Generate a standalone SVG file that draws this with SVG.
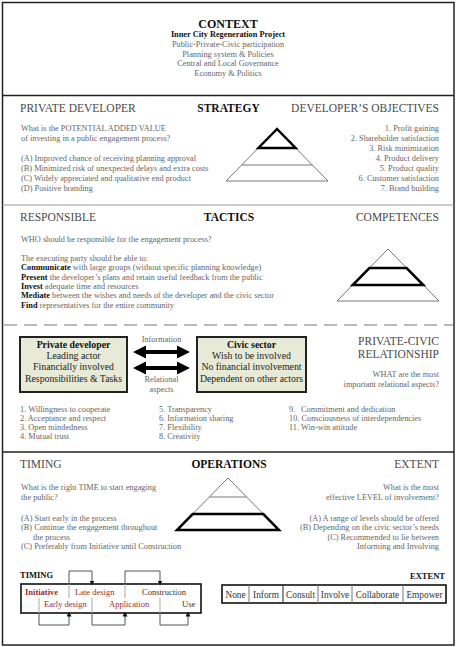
<svg xmlns="http://www.w3.org/2000/svg" width="456" height="647" viewBox="0 0 456 647" font-family="'Liberation Serif', 'DejaVu Serif', serif">
<style>
text{font-family:'Liberation Serif','DejaVu Serif',serif;font-size:8.3px;fill:#666}
.h{font-size:11.5px;fill:#4a4a4a}
.b{font-weight:bold;fill:#111}
.s12{font-size:12px}
.s115{font-size:11.5px}
.s85{font-size:8.5px}
.bk{font-weight:bold;fill:#111}
.m{text-anchor:middle}
.r{text-anchor:end}
.bx{font-size:9.8px;fill:#222}
.bxb{font-weight:bold;fill:#111}
.thin{fill:none;stroke:#777;stroke-width:1}
.bold{fill:none;stroke:#000;stroke-width:2.5;stroke-linejoin:miter}
.node{fill:#e6ead6;stroke:#222;stroke-width:2}
.tm{font-size:8.5px;fill:#333}
.red{fill:#9b2c2c}
.ex{font-size:9.3px;fill:#333}
.lo{fill:none;stroke:#555;stroke-width:1}
.li{fill:none;stroke:#aaa;stroke-width:1}
</style>
<defs>
<marker id="ah" viewBox="0 0 10 10" refX="9" refY="5" markerWidth="5" markerHeight="5" orient="auto"><path d="M0,0 L10,5 L0,10 z" fill="#111"/></marker>
</defs>
<rect x="0" y="0" width="456" height="647" fill="#fff"/>
<g id="frame">
<rect x="2.5" y="2.5" width="451.5" height="642.5" fill="none" stroke="#222" stroke-width="1.5"/>
<line x1="2.5" y1="95.5" x2="454" y2="95.5" stroke="#222" stroke-width="1.5"/>
<line x1="2.5" y1="205" x2="454" y2="205" stroke="#999" stroke-width="1"/>
<line x1="4" y1="325" x2="454" y2="325" stroke="#777" stroke-width="1" stroke-dasharray="13 7"/>
<line x1="2.5" y1="452" x2="454" y2="452" stroke="#222" stroke-width="1.5"/>
</g>
<g id="context">
<text x="228" y="28" class="b m s12">CONTEXT</text>
<text x="228" y="37" class="b m">Inner City Regeneration Project</text>
<text x="228" y="47" class="m">Public-Private-Civic participation</text>
<text x="228" y="56.5" class="m">Planning system &amp; Policies</text>
<text x="228" y="66" class="m">Central and Local Governance</text>
<text x="228" y="75.5" class="m">Economy &amp; Politics</text>
</g>
<g id="strategy">
<text x="20" y="112" class="h">PRIVATE DEVELOPER</text>
<text x="228.5" y="112" class="b m s115">STRATEGY</text>
<text x="439" y="112" class="h r">DEVELOPER’S OBJECTIVES</text>
<text x="21" y="131">What is the POTENTIAL ADDED VALUE</text>
<text x="21" y="141">of investing in a public engagement process?</text>
<text x="21" y="161">(A) Improved chance of receiving planning approval</text>
<text x="21" y="171">(B) Minimized risk of unexpected delays and extra costs</text>
<text x="21" y="181">(C) Widely appreciated and qualitative end product</text>
<text x="21" y="191">(D) Positive branding</text>
<text x="439" y="131" class="r">1. Profit gaining</text>
<text x="439" y="141" class="r">2. Shareholder satisfaction</text>
<text x="439" y="151" class="r">3. Risk minimization</text>
<text x="439" y="161" class="r">4. Product delivery</text>
<text x="439" y="171" class="r">5. Product quality</text>
<text x="439" y="181" class="r">6. Customer satisfaction</text>
<text x="439" y="191" class="r">7. Brand building</text>
<g id="pyramid-strategy">
<polygon class="thin" points="277,129 226,181 328,181"/>
<line class="thin" x1="241.7" y1="165" x2="312.3" y2="165"/>
<polygon class="bold" points="277,129 258.4,148 295.6,148"/>
</g>
</g>
<g id="tactics">
<text x="20" y="221" class="h">RESPONSIBLE</text>
<text x="229" y="221" class="b m s115">TACTICS</text>
<text x="439" y="221" class="h r">COMPETENCES</text>
<text x="21" y="242">WHO should be responsible for the engagement process?</text>
<text x="21" y="261">The executing party should be able to:</text>
<text x="21" y="270.3"><tspan class="bk">Communicate</tspan> with large groups (without specific planning knowledge)</text>
<text x="21" y="279.6"><tspan class="bk">Present</tspan> the developer’s plans and retain useful feedback from the public</text>
<text x="21" y="288.9"><tspan class="bk">Invest</tspan> adequate time and resources</text>
<text x="21" y="298.2"><tspan class="bk">Mediate</tspan> between the wishes and needs of the developer and the civic sector</text>
<text x="21" y="307.5"><tspan class="bk">Find</tspan> representatives for the entire community</text>
<g id="pyramid-tactics">
<polygon class="thin" points="388,249 337,301 439,301"/>
<line class="thin" x1="369.4" y1="268" x2="406.6" y2="268"/>
<polygon class="bold" points="369.4,268 406.6,268 423.3,285 352.7,285"/>
</g>
</g>
<g id="relationship">
<text x="439" y="345" class="h r">PRIVATE-CIVIC</text>
<text x="439" y="358" class="h r">RELATIONSHIP</text>
<text x="439" y="376.5" class="r">WHAT are the most</text>
<text x="439" y="387" class="r">important relational aspects?</text>
<text x="20" y="412">1. Willingness to cooperate</text>
<text x="20" y="421">2. Acceptance and respect</text>
<text x="20" y="430">3. Open mindedness</text>
<text x="20" y="439">4. Mutual trust</text>
<text x="159" y="412">5. Transparency</text>
<text x="159" y="421">6. Information sharing</text>
<text x="159" y="430">7. Flexibility</text>
<text x="159" y="439">8. Creativity</text>
<text x="289" y="412">9.<tspan x="301">Commitment and dedication</tspan></text>
<text x="289" y="421">10. Consciousness of interdependencies</text>
<text x="289" y="430">11. Win-win attitude</text>
</g>
<g id="node-private">
<rect class="node" x="20" y="337" width="107" height="55"/>
<text x="73.5" y="347.5" class="bx bxb m">Private developer</text>
<text x="73.5" y="359" class="bx m">Leading actor</text>
<text x="73.5" y="370.3" class="bx m">Financially involved</text>
<text x="73.5" y="381.6" class="bx m">Responsibilities &amp; Tasks</text>
</g>
<g id="node-civic">
<rect class="node" x="197" y="337" width="109" height="55"/>
<text x="251.5" y="347.5" class="bx bxb m">Civic sector</text>
<text x="251.5" y="359" class="bx m">Wish to be involved</text>
<text x="251.5" y="370.3" class="bx m">No financial involvement</text>
<text x="251.5" y="381.6" class="bx m">Dependent on other actors</text>
</g>
<g id="connectors">
<polygon fill="#000" points="133,352 146,345.5 146,350 177,350 177,345.5 190,352 177,358.5 177,354 146,354 146,358.5"/>
<polygon fill="#000" points="133,368 146,361.5 146,366 177,366 177,361.5 190,368 177,374.5 177,370 146,370 146,374.5"/>
<text x="161.5" y="342" class="m">Information</text>
<text x="161.5" y="382" class="m">Relational</text>
<text x="161.5" y="392" class="m">aspects</text>
</g>
<g id="operations">
<text x="20" y="468" class="h">TIMING</text>
<text x="229" y="468" class="b m s115">OPERATIONS</text>
<text x="439" y="468" class="h r">EXTENT</text>
<text x="21" y="490">What is the right TIME to start engaging</text>
<text x="21" y="500">the public?</text>
<text x="21" y="520.5">(A) Start early in the process</text>
<text x="21" y="530">(B) Continue the engagement throughout</text>
<text x="33" y="539.5">the process</text>
<text x="21" y="549">(C) Preferably from Initiative until Construction</text>
<text x="439" y="490" class="r">What is the most</text>
<text x="439" y="500" class="r">effective LEVEL of involvement?</text>
<text x="439" y="520.5" class="r">(A) A range of levels should be offered</text>
<text x="439" y="530" class="r">(B) Depending on the civic sector’s needs</text>
<text x="439" y="539.5" class="r">(C) Recommended to lie between</text>
<text x="439" y="549" class="r">Informing and Involving</text>
<g id="pyramid-operations">
<polygon class="thin" points="228,478 177,530 279,530"/>
<line class="thin" x1="209.4" y1="497" x2="246.6" y2="497"/>
<polygon class="bold" points="192.7,514 263.3,514 279,530 177,530"/>
</g>
</g>
<g id="timing-diagram">
<text x="20" y="577.5" class="b s85">TIMING</text>
<rect x="21" y="584" width="180" height="29" fill="none" stroke="#111" stroke-width="1.6"/>
<text x="25" y="595" class="tm red bxb">Initiative</text>
<text x="75" y="595" class="tm red">Late design</text>
<text x="142" y="595" class="tm">Construction</text>
<text x="44" y="607" class="tm red">Early design</text>
<text x="109" y="607" class="tm red">Application</text>
<text x="182" y="607" class="tm">Use</text>
<g id="timing-connectors">
<path class="li" d="M69,598 V584"/>
<path class="lo" d="M69,584 V571 H92 V585" marker-end="url(#ah)"/>
<path class="li" d="M125,598 V584"/>
<path class="lo" d="M125,584 V571 H160 V585" marker-end="url(#ah)"/>
<path class="li" d="M39,598 V613"/>
<path class="lo" d="M39,613 V625 H69 V612" marker-end="url(#ah)"/>
<path class="li" d="M92,598 V613"/>
<path class="lo" d="M92,613 V625 H125 V612" marker-end="url(#ah)"/>
<path class="li" d="M160,598 V613"/>
<path class="lo" d="M160,613 V625 H188 V612" marker-end="url(#ah)"/>
</g>
</g>
<g id="extent-diagram">
<text x="445" y="578.5" class="b r s85">EXTENT</text>
<rect x="222" y="585" width="224" height="18" fill="none" stroke="#111" stroke-width="1.6"/>
<g stroke="#777" stroke-width="1">
<line x1="249" y1="585" x2="249" y2="603"/>
<line x1="283" y1="585" x2="283" y2="603" stroke="#222"/>
<line x1="318" y1="585" x2="318" y2="603"/>
<line x1="352" y1="585" x2="352" y2="603"/>
<line x1="403" y1="585" x2="403" y2="603"/>
</g>
<text x="235.5" y="597.5" class="ex m">None</text>
<text x="266" y="597.5" class="ex m red">Inform</text>
<text x="300.5" y="597.5" class="ex m red">Consult</text>
<text x="335" y="597.5" class="ex m red">Involve</text>
<text x="377.5" y="597.5" class="ex m">Collaborate</text>
<text x="424.5" y="597.5" class="ex m">Empower</text>
</g>
</svg>
